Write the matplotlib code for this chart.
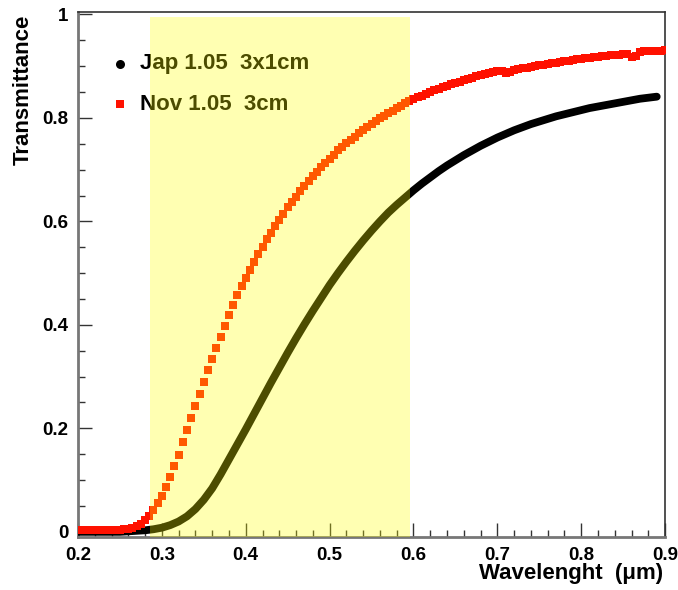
import numpy as np
import matplotlib
matplotlib.use('Agg')
import matplotlib.pyplot as plt
from matplotlib.ticker import MultipleLocator, FormatStrFormatter
from matplotlib.patches import Rectangle

plt.rcParams['font.family'] = ['Liberation Sans', 'DejaVu Sans']
plt.rcParams['font.weight'] = 'bold'

# Jap 1.05 aerogel, sampled every 10 nm
jap_wl = np.round(np.arange(0.20, 0.895, 0.01), 3)
jap_t = [0.000, 0.000, 0.000, 0.000, 0.000, 0.000, 0.001, 0.002, 0.003, 0.005,
         0.008, 0.013, 0.020, 0.030, 0.044, 0.062, 0.084, 0.111, 0.140, 0.169,
         0.198, 0.228, 0.258, 0.288, 0.317, 0.346, 0.374, 0.401, 0.427, 0.452,
         0.477, 0.500, 0.522, 0.543, 0.563, 0.582, 0.600, 0.617, 0.632, 0.646,
         0.660, 0.673, 0.685, 0.697, 0.708, 0.718, 0.728, 0.737, 0.746, 0.754,
         0.762, 0.769, 0.776, 0.782, 0.788, 0.793, 0.798, 0.803, 0.807, 0.811,
         0.815, 0.819, 0.822, 0.825, 0.828, 0.831, 0.834, 0.837, 0.839, 0.841]

# Nov 1.05 aerogel, sampled every 5 nm
nov_wl = np.round(np.arange(0.205, 0.9025, 0.005), 3)
nov_t = [0.003, 0.003, 0.003, 0.003, 0.003, 0.003, 0.003, 0.003, 0.003, 0.004,
         0.005, 0.006, 0.008, 0.011, 0.015, 0.022, 0.031, 0.042, 0.055, 0.070,
         0.087, 0.106, 0.127, 0.149, 0.173, 0.197, 0.220, 0.243, 0.267, 0.290,
         0.313, 0.335, 0.356, 0.377, 0.398, 0.419, 0.438, 0.458, 0.475, 0.491,
         0.507, 0.522, 0.537, 0.551, 0.565, 0.578, 0.591, 0.603, 0.615, 0.627,
         0.638, 0.648, 0.658, 0.668, 0.678, 0.687, 0.696, 0.705, 0.713, 0.721,
         0.729, 0.737, 0.744, 0.751, 0.758, 0.764, 0.771, 0.777, 0.783, 0.788,
         0.794, 0.799, 0.804, 0.809, 0.814, 0.819, 0.823, 0.828, 0.832, 0.836,
         0.840, 0.843, 0.847, 0.850, 0.853, 0.856, 0.859, 0.862, 0.865, 0.868,
         0.870, 0.873, 0.875, 0.877, 0.880, 0.882, 0.884, 0.886, 0.888, 0.890,
         0.891, 0.887, 0.889, 0.893, 0.894, 0.896, 0.897, 0.899, 0.900, 0.902,
         0.903, 0.904, 0.906, 0.907, 0.908, 0.909, 0.910, 0.912, 0.913, 0.914,
         0.915, 0.916, 0.917, 0.918, 0.919, 0.920, 0.921, 0.922, 0.922, 0.923,
         0.924, 0.918, 0.919, 0.928, 0.929, 0.929, 0.930, 0.930, 0.930, 0.931]

# highlighted wavelength window
band_lo, band_hi, band_top = 0.286, 0.596, 0.995

fig = plt.figure(figsize=(6.78, 5.90), dpi=100)
ax = fig.add_axes([0.115, 0.0898, 0.866, 0.8893])

ax.plot(jap_wl, jap_t, color='black', lw=5.6, solid_capstyle='round',
        solid_joinstyle='round', zorder=3)
ax.plot(nov_wl, nov_t, ls='none', marker='s', ms=5.3, mew=0,
        color='#ff1100', zorder=4)

# legend drawn by hand, ROOT style
ax.plot([0.2505], [0.905], 'o', color='black', ms=6.5, mew=0, zorder=5)
ax.plot([0.2505], [0.826], 's', color='#ff1100', ms=5.5, mew=0, zorder=5)
ax.text(0.2745, 0.905, 'Jap 1.05  3x1cm', fontsize=16, fontweight='bold',
        va='center', ha='left', zorder=5)
ax.text(0.2745, 0.826, 'Nov 1.05  3cm', fontsize=16, fontweight='bold',
        va='center', ha='left', zorder=5)

ax.add_patch(Rectangle((band_lo, -0.01), band_hi - band_lo, band_top + 0.01,
                       facecolor=(1, 1, 0), alpha=0.3, lw=0, zorder=10))

ax.set_xlim(0.2, 0.9)
ax.set_ylim(-0.01, 1.004)

ax.xaxis.set_major_locator(MultipleLocator(0.1))
ax.xaxis.set_minor_locator(MultipleLocator(0.02))
ax.yaxis.set_major_locator(MultipleLocator(0.2))
ax.yaxis.set_minor_locator(MultipleLocator(0.05))
ax.xaxis.set_major_formatter(FormatStrFormatter('%g'))
ax.yaxis.set_major_formatter(FormatStrFormatter('%g'))

ax.tick_params(which='both', direction='in', top=False, right=False,
               color='#333333', width=1, labelsize=13.5, pad=7)
ax.tick_params(which='major', length=10)
ax.tick_params(which='minor', length=5)
for lab in ax.get_xticklabels() + ax.get_yticklabels():
    lab.set_fontweight('bold')

for side in ['left', 'bottom']:
    ax.spines[side].set_color('#777777')
    ax.spines[side].set_linewidth(2)
for side in ['top', 'right']:
    ax.spines[side].set_color('#333333')
    ax.spines[side].set_linewidth(1.2)

fig.text(23 / 678, 1 - 15 / 590, 'Transmittance', rotation=90, fontsize=16,
         fontweight='bold', ha='center', va='top')
fig.text(663 / 678, 1 - 573 / 590, 'Wavelenght  (\u03bcm)', fontsize=16,
         fontweight='bold', ha='right', va='center')

fig.savefig('out.png', dpi=100)
